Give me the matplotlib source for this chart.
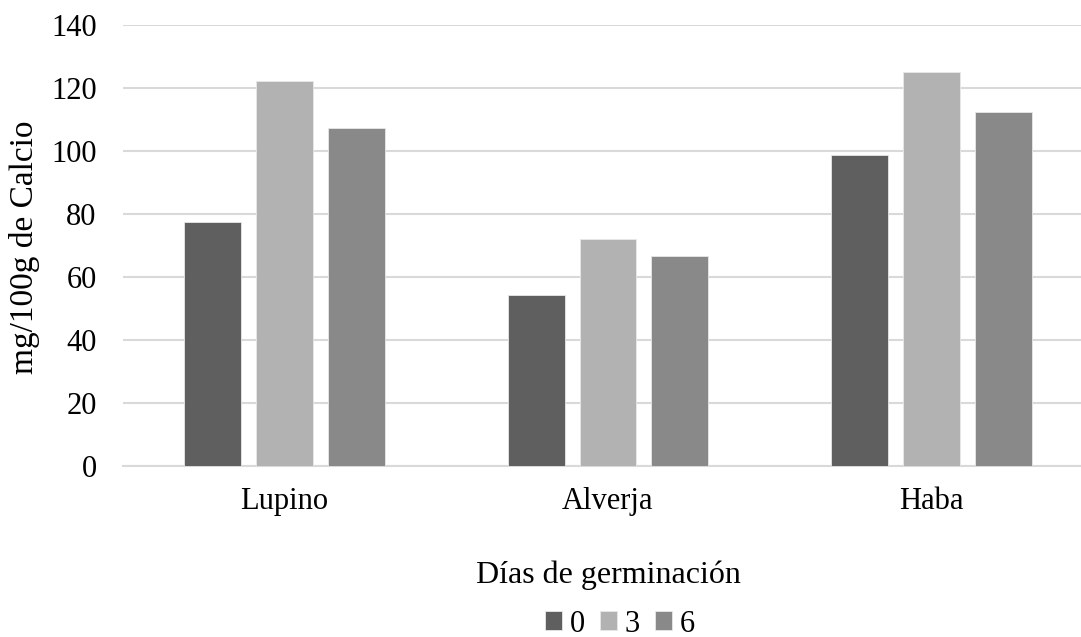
import os
os.environ['MPLBACKEND'] = 'Agg'
import numpy as np
import matplotlib.pyplot as plt

# Calcio content by legume and germination days
categories = ["Lupino", "Alverja", "Haba"]
days = ["0", "3", "6"]
dia_0 = [77.4, 54.2, 98.8]
dia_3 = [122.2, 72.1, 125.1]
dia_6 = [107.3, 66.7, 112.4]

colors = ["#5f5f5f", "#b2b2b2", "#898989"]

plt.rcParams['font.family'] = ['Liberation Serif', 'DejaVu Serif']

fig = plt.figure(figsize=(10.81, 6.37), dpi=100)
ax = fig.add_axes([123 / 1081, 171 / 637, 970 / 1081, 441 / 637])

x = np.arange(len(categories))
width = 0.176
step = 0.222
for i, (vals, lab) in enumerate(zip([dia_0, dia_3, dia_6], days)):
    ax.bar(x + (i - 1) * step, vals, width, color=colors[i], label=lab,
           edgecolor="#e8e8e8", linewidth=0.6, zorder=3)

ax.set_xlim(-0.5, 2.5)
ax.set_ylim(0, 140)
ax.set_yticks(range(0, 141, 20))
ax.set_xticks(x)
ax.set_xticklabels(categories)
ax.tick_params(axis='both', length=0, labelsize=22, colors='black')
ax.tick_params(axis='x', pad=15)
ax.tick_params(axis='y', pad=19)

ax.grid(axis='y', color='#d9d9d9', linewidth=1.5, zorder=0)
for s in ['top', 'right', 'left']:
    ax.spines[s].set_visible(False)
ax.spines['bottom'].set_color('#d9d9d9')
ax.spines['bottom'].set_linewidth(1.5)

fig.text(25 / 1081, 1 - 247 / 637, "mg/100g de Calcio", fontsize=24,
         rotation=90, ha='center', va='center')
fig.text(608 / 1081, 1 - 583 / 637, "Días de germinación", fontsize=23,
         ha='center', va='baseline')

fig.legend(loc='center', bbox_to_anchor=(620 / 1081, 1 - 624 / 637),
           ncol=3, frameon=False, fontsize=22, handlelength=0.55,
           handleheight=0.55, handletextpad=0.25, columnspacing=0.5,
           borderpad=0, borderaxespad=0)

plt.savefig("out.png", dpi=100)
plt.close()
